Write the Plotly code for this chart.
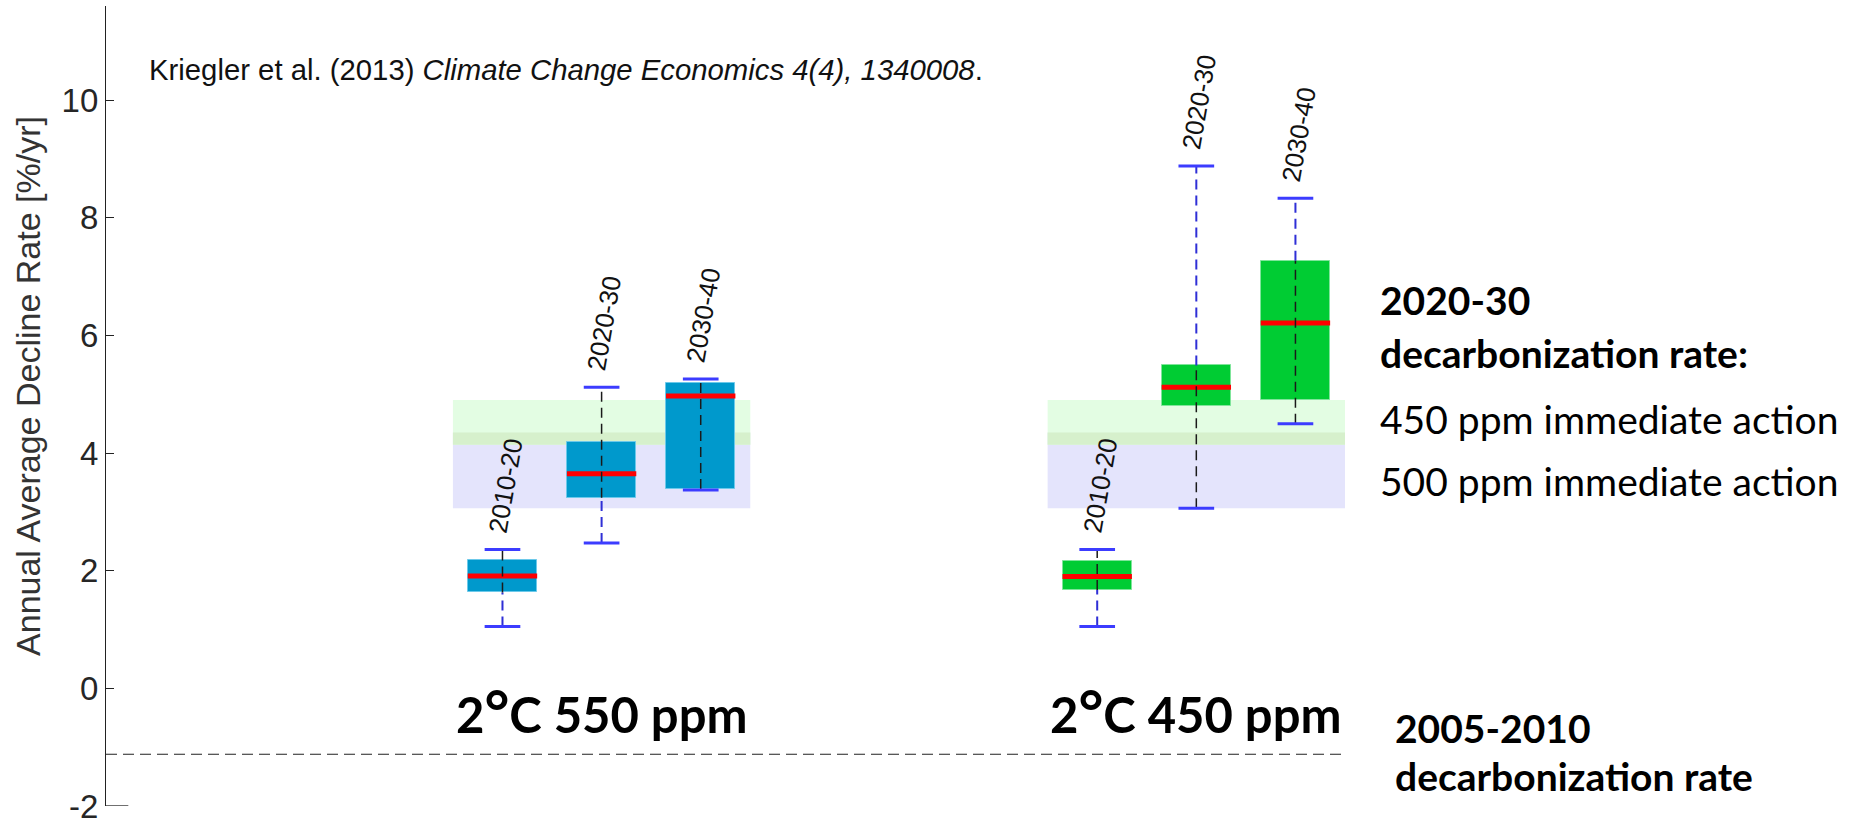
import plotly.graph_objects as go

# ---------------------------------------------------------------- data
periods = ["2010-20", "2020-30", "2030-40"]
scenario_names = ["2°C 550 ppm", "2°C 450 ppm"]

# decline-rate statistics [%/yr], one value per period
low_550 = [1.05, 2.47, 3.37]
q1_550 = [1.63, 3.24, 3.39]
median_550 = [1.91, 3.65, 4.97]
q3_550 = [2.19, 4.18, 5.19]
high_550 = [2.36, 5.12, 5.26]

low_450 = [1.05, 3.06, 4.50]
q1_450 = [1.67, 4.80, 4.90]
median_450 = [1.90, 5.12, 6.21]
q3_450 = [2.16, 5.49, 7.27]
high_450 = [2.36, 8.88, 8.33]

# 2020-30 decarbonization rate ranges under immediate action
band_500ppm = [3.06, 4.35]
band_450ppm = [4.14, 4.90]

# 2005-2010 decarbonization rate
historical_rate = -1.12

y_ticks = [-2, 0, 2, 4, 6, 8, 10]

# ---------------------------------------------------------------- layout constants
X_RANGE = [-3.0, 9.5]
Y_RANGE = [-2.0, 11.6]
GROUP_START = [1, 7]           # x of first box in each scenario group
BOX_W = 0.7
CAP_W = 0.36
BAND_PAD = 0.5

FILL = ["#0099cc", "#00cc33"]
EDGE = ["#6cc9ea", "#7fe59a"]
CAP_COLOR = "#3c3cff"
WHISKER_BLUE = "#2f2fd6"
WHISKER_DARK = "#1a1a1a"
# which whisker side is drawn dark (continuing through the box)
DARK_SIDE = [["upper", "upper", "upper"], ["upper", "lower", "lower"]]

SANS = "Liberation Sans, Arial, sans-serif"
CALIBRI_LIKE = "Lato, Open Sans, sans-serif"

groups = [
    dict(low=low_550, q1=q1_550, med=median_550, q3=q3_550, high=high_550),
    dict(low=low_450, q1=q1_450, med=median_450, q3=q3_450, high=high_450),
]

fig = go.Figure()

# reference bands behind each group
shapes = []
ov_lo = max(band_500ppm[0], band_450ppm[0])
ov_hi = min(band_500ppm[1], band_450ppm[1])
for g0 in GROUP_START:
    x0 = g0 - BAND_PAD
    x1 = g0 + len(periods) - 1 + BAND_PAD
    for (lo, hi), col in [(band_500ppm, "#e4e4fc"), (band_450ppm, "#e3fde3"),
                          ((ov_lo, ov_hi), "#d6f0cc")]:
        shapes.append(dict(type="rect", xref="x", yref="y", x0=x0, x1=x1,
                           y0=lo, y1=hi, fillcolor=col, line_width=0,
                           layer="below"))

# 2005-2010 rate line
shapes.append(dict(type="line", xref="x", yref="y", x0=X_RANGE[0], x1=X_RANGE[1],
                   y0=historical_rate, y1=historical_rate,
                   line=dict(color="#222222", width=1.2, dash="11px,6px")))
# short stub at the foot of the axis
shapes.append(dict(type="line", xref="paper", yref="y", x0=0, x1=0.018,
                   y0=Y_RANGE[0], y1=Y_RANGE[0],
                   line=dict(color="#222222", width=1.3)))

annotations = []

for gi, (g0, st) in enumerate(zip(GROUP_START, groups)):
    xs = [g0 + i for i in range(len(periods))]

    # boxes (interquartile range)
    fig.add_trace(go.Bar(
        x=xs, base=st["q1"], y=[b - a for a, b in zip(st["q1"], st["q3"])],
        width=BOX_W, marker=dict(color=FILL[gi], line=dict(color=EDGE[gi], width=1)),
        hoverinfo="skip", showlegend=False))

    # medians
    mx, my = [], []
    for x, m in zip(xs, st["med"]):
        mx += [x - BOX_W / 2, x + BOX_W / 2, None]
        my += [m, m, None]
    fig.add_trace(go.Scatter(x=mx, y=my, mode="lines",
                             line=dict(color="#ff0000", width=5),
                             hoverinfo="skip", showlegend=False))

    # whiskers: one side blue, the other dark and running through the box
    bx, by, dx, dy = [], [], [], []
    for i, x in enumerate(xs):
        lo, q1, q3, hi = st["low"][i], st["q1"][i], st["q3"][i], st["high"][i]
        if DARK_SIDE[gi][i] == "upper":
            dx += [x, x, None]; dy += [q1, hi, None]
            bx += [x, x, None]; by += [lo, q1, None]
        else:
            dx += [x, x, None]; dy += [lo, q3, None]
            bx += [x, x, None]; by += [q3, hi, None]
    fig.add_trace(go.Scatter(x=bx, y=by, mode="lines",
                             line=dict(color=WHISKER_BLUE, width=2, dash="10px,6px"),
                             hoverinfo="skip", showlegend=False))
    fig.add_trace(go.Scatter(x=dx, y=dy, mode="lines",
                             line=dict(color=WHISKER_DARK, width=1.5, dash="10px,6px"),
                             hoverinfo="skip", showlegend=False))

    # whisker caps
    cx, cy = [], []
    for x, lo, hi in zip(xs, st["low"], st["high"]):
        for v in (lo, hi):
            cx += [x - CAP_W / 2, x + CAP_W / 2, None]
            cy += [v, v, None]
    fig.add_trace(go.Scatter(x=cx, y=cy, mode="lines",
                             line=dict(color=CAP_COLOR, width=3),
                             hoverinfo="skip", showlegend=False))

    # period labels above each box
    for x, hi, p in zip(xs, st["high"], periods):
        annotations.append(dict(x=x, y=hi, xref="x", yref="y", text=p,
                                showarrow=False, textangle=-80,
                                xanchor="center", yanchor="bottom", yshift=12,
                                xshift=3,
                                font=dict(family=SANS, size=26, color="#111111")))

    # scenario label under the group
    deg_big = scenario_names[gi].replace("°", '<span style="font-size:60px">°</span>')
    annotations.append(dict(x=g0 + (len(periods) - 1) / 2, y=-0.37, xref="x", yref="y",
                            text="<b>" + deg_big + "</b>",
                            showarrow=False, xanchor="center", yanchor="middle",
                            font=dict(family=CALIBRI_LIKE, size=49, color="#000000")))

# citation
annotations.append(dict(x=0.0327, y=10.52, xref="paper", yref="y",
                        text="Kriegler et al. (2013) <i>Climate Change Economics 4(4), 1340008</i>.",
                        showarrow=False, xanchor="left", yanchor="middle",
                        font=dict(family=SANS, size=29.3, color="#111111")))

# y-axis title
annotations.append(dict(x=-0.063, y=0.525, xref="paper", yref="paper",
                        text="Annual Average Decline Rate [%/yr]",
                        showarrow=False, textangle=-90,
                        xanchor="center", yanchor="middle",
                        font=dict(family=SANS, size=34, color="#333333")))

# side notes
side_x = 1.0267
side_notes = [
    ("<b>2020-30</b>", 6.60, side_x),
    ("<b>decarbonization rate:</b>", 5.70, side_x),
    ("450 ppm immediate action", 4.58, side_x),
    ("500 ppm immediate action", 3.52, side_x),
    ("<b>2005-2010</b>", -0.67, side_x + 0.012),
    ("<b>decarbonization rate</b>", -1.49, side_x + 0.012),
]
for txt, yv, xv in side_notes:
    annotations.append(dict(x=xv, y=yv, xref="paper", yref="y", text=txt,
                            showarrow=False, xanchor="left", yanchor="middle",
                            font=dict(family=CALIBRI_LIKE, size=39, color="#000000")))

fig.update_layout(
    width=1852, height=825,
    margin=dict(l=106, r=507, t=6, b=19, autoexpand=False),
    paper_bgcolor="white", plot_bgcolor="white",
    barmode="overlay", bargap=0,
    showlegend=False,
    shapes=shapes, annotations=annotations,
    xaxis=dict(range=X_RANGE, visible=False, fixedrange=True, automargin=False),
    yaxis=dict(range=Y_RANGE, tickvals=y_ticks, ticktext=[str(v) for v in y_ticks],
               ticks="inside", ticklen=8, tickwidth=1.2, tickcolor="#222222",
               showline=True, linecolor="#222222", linewidth=1.3,
               showgrid=False, zeroline=False, ticklabeloverflow="allow",
               automargin=False,
               tickfont=dict(family=SANS, size=33, color="#262626")),
)

fig.write_html("out.html")
